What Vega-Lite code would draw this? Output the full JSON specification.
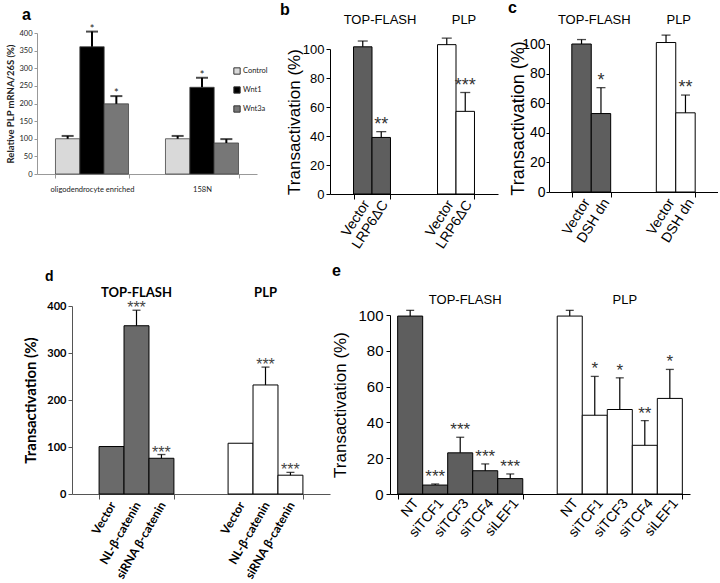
{
 "$schema": "https://vega.github.io/schema/vega-lite/v6.json",
 "background": "white",
 "padding": {"left": 5, "top": 0, "right": 0, "bottom": 0},
 "config": {"view": {"stroke": null}, "axis": {"grid": false, "labelOverlap": false},
   "title": {"font": "Liberation Sans", "fontWeight": "bold", "color": "#000", "anchor": "start", "frame": "group"}},
 "bounds": "flush",
 "spacing": 273,
 "resolve": {"scale": {"fill": "independent", "xOffset": "independent"}},
 "vconcat": [
  {"hconcat": [
   {
    "width": 242, "height": 141,
    "title": {"text": "a", "dx": -15, "offset": 1, "fontSize": 16},
    "data": {"values": [
     {"group": "oligodendrocyte enriched", "cond": "Control", "v": 100, "e": 108, "star": ""},
     {"group": "oligodendrocyte enriched", "cond": "Wnt1", "v": 361, "e": 404, "star": "*"},
     {"group": "oligodendrocyte enriched", "cond": "Wnt3a", "v": 199, "e": 221, "star": "*"},
     {"group": "158N", "cond": "Control", "v": 100, "e": 108, "star": ""},
     {"group": "158N", "cond": "Wnt1", "v": 246, "e": 273, "star": "*"},
     {"group": "158N", "cond": "Wnt3a", "v": 88, "e": 99, "star": ""}
    ]},
    "encoding": {
     "x": {"field": "group", "type": "nominal", "sort": null,
       "scale": {"domain": ["oligodendrocyte enriched", "158N"], "range": [0, 220], "paddingInner": 0.336, "paddingOuter": 0.168},
       "axis": {"title": null, "labelAngle": 0, "labelFont": "Lato", "labelFontSize": 7.5, "labelColor": "#222", "labelPadding": 7, "tickBand": "extent", "tickSize": 4, "domainColor": "#999", "tickColor": "#999"}}
    },
    "layer": [
     {"mark": {"type": "bar", "stroke": "#444", "strokeWidth": 0.8},
      "encoding": {
       "xOffset": {"field": "cond", "type": "nominal", "sort": null, "scale": {"domain": ["Control", "Wnt1", "Wnt3a"], "paddingInner": 0, "paddingOuter": 0}},
       "y": {"field": "v", "type": "quantitative", "scale": {"domain": [0, 400], "nice": false},
        "axis": {"title": "Relative PLP mRNA/26S (%)", "values": [0, 50, 100, 150, 200, 250, 300, 350, 400], "tickCount": 20, "labelOverlap": false, "titleFont": "Lato", "titleFontSize": 9.5, "titleFontWeight": "bold", "titleColor": "#222", "titlePadding": 3, "labelFont": "Lato", "labelFontSize": 7.5, "labelColor": "#222", "labelPadding": 2, "tickSize": 3, "domainColor": "#999", "tickColor": "#999"}},
       "fill": {"field": "cond", "type": "nominal", "scale": {"domain": ["Control", "Wnt1", "Wnt3a"], "range": ["#d9d9d9", "#000000", "#777777"]},
        "legend": {"title": null, "orient": "none", "legendX": 196, "legendY": 34, "padding": 0, "symbolType": "square", "symbolSize": 40, "symbolStrokeColor": "#333", "symbolStrokeWidth": 1, "labelFont": "Lato", "labelFontSize": 7.5, "labelColor": "#222", "rowPadding": 7, "labelOffset": 2}}
      }},
     {"mark": {"type": "rule", "stroke": "#000", "strokeWidth": 2},
      "encoding": {"xOffset": {"field": "cond", "type": "nominal", "sort": null}, "y": {"field": "v", "type": "quantitative"}, "y2": {"field": "e"}}},
     {"mark": {"type": "tick", "orient": "horizontal", "color": "#000", "size": 12, "thickness": 2},
      "encoding": {"xOffset": {"field": "cond", "type": "nominal", "sort": null}, "y": {"field": "e", "type": "quantitative"}}},
     {"mark": {"type": "text", "font": "Lato", "fontSize": 11, "baseline": "alphabetic", "dy": 1, "color": "#222"},
      "encoding": {"xOffset": {"field": "cond", "type": "nominal", "sort": null}, "y": {"field": "e", "type": "quantitative"}, "text": {"field": "star"}}}
    ]
   },
   {
    "width": 168, "height": 161,
    "title": {"text": "b", "dx": -50, "offset": -4, "fontSize": 16},
    "data": {"values": [
     {"group": "TOP-FLASH", "cond": "Vector", "v": 101.5, "e": 105.5, "star": ""},
     {"group": "TOP-FLASH", "cond": "LRP6ΔC", "v": 39, "e": 43, "star": "**"},
     {"group": "PLP", "cond": "Vector", "v": 103, "e": 107.5, "star": ""},
     {"group": "PLP", "cond": "LRP6ΔC", "v": 57, "e": 70, "star": "***"}
    ]},
    "encoding": {
     "x": {"field": "group", "type": "nominal", "sort": null,
       "scale": {"domain": ["TOP-FLASH", "PLP"], "paddingInner": 0.56, "paddingOuter": 0.28},
       "axis": {"title": null, "labels": false, "tickBand": "extent", "tickSize": 5, "domainColor": "#000", "tickColor": "#000"}}
    },
    "layer": [
     {"mark": {"type": "bar", "stroke": "#000", "strokeWidth": 1},
      "encoding": {
       "xOffset": {"field": "cond", "type": "nominal", "sort": null, "scale": {"domain": ["Vector", "LRP6ΔC"], "paddingInner": 0, "paddingOuter": 0}},
       "y": {"field": "v", "type": "quantitative", "scale": {"domain": [0, 100], "range": [161, 16], "nice": false},
        "axis": {"title": "Transactivation (%)", "values": [0, 20, 40, 60, 80, 100], "tickCount": 20, "labelOverlap": false, "titleFont": "Liberation Sans", "titleFontSize": 17, "titleFontWeight": "normal", "titleColor": "#000", "titlePadding": -1, "labelFont": "Liberation Sans", "labelFontSize": 13, "labelColor": "#000", "labelPadding": 2, "tickSize": 4, "domainColor": "#000", "tickColor": "#000"}},
       "fill": {"field": "group", "type": "nominal", "scale": {"domain": ["TOP-FLASH", "PLP"], "range": ["#5e5e5e", "#ffffff"]}, "legend": null}
      }},
     {"mark": {"type": "rule", "stroke": "#000", "strokeWidth": 1.2},
      "encoding": {"xOffset": {"field": "cond", "type": "nominal", "sort": null}, "y": {"field": "v", "type": "quantitative"}, "y2": {"field": "e"}}},
     {"mark": {"type": "tick", "orient": "horizontal", "color": "#000", "size": 10, "thickness": 1.3},
      "encoding": {"xOffset": {"field": "cond", "type": "nominal", "sort": null}, "y": {"field": "e", "type": "quantitative"}}},
     {"mark": {"type": "text", "font": "Liberation Sans", "fontSize": 18, "baseline": "alphabetic", "dy": -2, "color": "#333"},
      "encoding": {"xOffset": {"field": "cond", "type": "nominal", "sort": null}, "y": {"field": "e", "type": "quantitative"}, "text": {"field": "star"}}},
     {"mark": {"type": "text", "font": "Liberation Sans", "fontSize": 14, "angle": 303, "align": "right", "baseline": "middle", "dx": -4.5, "dy": 7.7, "color": "#000"},
      "encoding": {"xOffset": {"field": "cond", "type": "nominal", "sort": null}, "y": {"datum": 0}, "text": {"field": "cond"}}},
     {"transform": [{"filter": "datum.cond === 'Vector'"}],
      "mark": {"type": "text", "font": "Liberation Sans", "fontSize": 13, "baseline": "middle", "dx": 8, "color": "#000"},
      "encoding": {"y": {"datum": 120}, "text": {"field": "group"}}}
    ]
   },
   {
    "width": 169, "height": 159,
    "title": {"text": "c", "dx": -41, "offset": -2, "fontSize": 16},
    "data": {"values": [
     {"group": "TOP-FLASH", "cond": "Vector", "v": 100, "e": 103, "star": ""},
     {"group": "TOP-FLASH", "cond": "DSH dn", "v": 53, "e": 70.5, "star": "*"},
     {"group": "PLP", "cond": "Vector", "v": 101, "e": 106, "star": ""},
     {"group": "PLP", "cond": "DSH dn", "v": 53.5, "e": 65.5, "star": "**"}
    ]},
    "encoding": {
     "x": {"field": "group", "type": "nominal", "sort": null,
       "scale": {"domain": ["TOP-FLASH", "PLP"], "paddingInner": 0.54, "paddingOuter": 0.27},
       "axis": {"title": null, "labels": false, "tickBand": "extent", "tickSize": 5, "domainColor": "#000", "tickColor": "#000"}}
    },
    "layer": [
     {"mark": {"type": "bar", "stroke": "#000", "strokeWidth": 1},
      "encoding": {
       "xOffset": {"field": "cond", "type": "nominal", "sort": null, "scale": {"domain": ["Vector", "DSH dn"], "paddingInner": 0, "paddingOuter": 0}},
       "y": {"field": "v", "type": "quantitative", "scale": {"domain": [0, 100], "range": [159, 11], "nice": false},
        "axis": {"title": "Transactivation (%)", "values": [0, 20, 40, 60, 80, 100], "tickCount": 20, "labelOverlap": false, "titleFont": "Liberation Sans", "titleFontSize": 18, "titleFontWeight": "normal", "titleColor": "#000", "titlePadding": -6, "labelFont": "Liberation Sans", "labelFontSize": 14, "labelColor": "#000", "labelPadding": 1, "tickSize": 3, "domainColor": "#000", "tickColor": "#000"}},
       "fill": {"field": "group", "type": "nominal", "scale": {"domain": ["TOP-FLASH", "PLP"], "range": ["#5e5e5e", "#ffffff"]}, "legend": null}
      }},
     {"mark": {"type": "rule", "stroke": "#000", "strokeWidth": 1.2},
      "encoding": {"xOffset": {"field": "cond", "type": "nominal", "sort": null}, "y": {"field": "v", "type": "quantitative"}, "y2": {"field": "e"}}},
     {"mark": {"type": "tick", "orient": "horizontal", "color": "#000", "size": 9, "thickness": 1.3},
      "encoding": {"xOffset": {"field": "cond", "type": "nominal", "sort": null}, "y": {"field": "e", "type": "quantitative"}}},
     {"mark": {"type": "text", "font": "Liberation Sans", "fontSize": 18, "baseline": "alphabetic", "dy": -2, "color": "#333"},
      "encoding": {"xOffset": {"field": "cond", "type": "nominal", "sort": null}, "y": {"field": "e", "type": "quantitative"}, "text": {"field": "star"}}},
     {"mark": {"type": "text", "font": "Liberation Sans", "fontSize": 14, "angle": 302, "align": "right", "baseline": "middle", "dx": -4, "dy": 9, "color": "#000"},
      "encoding": {"xOffset": {"field": "cond", "type": "nominal", "sort": null}, "y": {"datum": 0}, "text": {"field": "cond"}}},
     {"transform": [{"filter": "datum.cond === 'Vector'"}],
      "mark": {"type": "text", "font": "Liberation Sans", "fontSize": 13, "baseline": "middle", "dx": 3, "color": "#000"},
      "encoding": {"y": {"datum": 116}, "text": {"field": "group"}}}
    ]
   }
  ], "spacing": 51, "bounds": "flush",
  "resolve": {"scale": {"fill": "independent", "xOffset": "independent"}}},
  {"hconcat": [
   {
    "width": 293, "height": 188,
    "title": {"text": "d", "dx": 8, "offset": 3, "fontSize": 14},
    "data": {"values": [
     {"group": "TOP-FLASH", "cond": "Vector", "v": 101, "e": null, "star": ""},
     {"group": "TOP-FLASH", "cond": "NL-β-catenin", "v": 358, "e": 391, "star": "***"},
     {"group": "TOP-FLASH", "cond": "siRNA β-catenin", "v": 76, "e": 84, "star": "***"},
     {"group": "PLP", "cond": "Vector", "v": 108, "e": null, "star": ""},
     {"group": "PLP", "cond": "NL-β-catenin", "v": 232, "e": 270, "star": "***"},
     {"group": "PLP", "cond": "siRNA β-catenin", "v": 40, "e": 46, "star": "***"}
    ]},
    "encoding": {
     "x": {"field": "group", "type": "nominal", "sort": null,
       "scale": {"domain": ["TOP-FLASH", "PLP"], "range": [35, 293], "paddingInner": 0.42, "paddingOuter": 0.21},
       "axis": {"title": null, "labels": false, "tickBand": "extent", "tickSize": 5, "domainColor": "#555", "tickColor": "#555"}}
    },
    "layer": [
     {"mark": {"type": "bar", "stroke": "#000", "strokeWidth": 1},
      "encoding": {
       "xOffset": {"field": "cond", "type": "nominal", "sort": null, "scale": {"domain": ["Vector", "NL-β-catenin", "siRNA β-catenin"], "paddingInner": 0, "paddingOuter": 0}},
       "y": {"field": "v", "type": "quantitative", "scale": {"domain": [0, 400], "nice": false},
        "axis": {"title": "Transactivation (%)", "offset": -35, "values": [0, 100, 200, 300, 400], "tickCount": 20, "labelOverlap": false, "titleFont": "Lato", "titleFontSize": 15, "titleFontWeight": "bold", "titleColor": "#000", "titlePadding": 8, "labelFont": "Lato", "labelFontSize": 11, "labelFontWeight": "bold", "labelColor": "#000", "labelPadding": 2, "tickSize": 4, "domainColor": "#555", "tickColor": "#555"}},
       "fill": {"field": "group", "type": "nominal", "scale": {"domain": ["TOP-FLASH", "PLP"], "range": ["#6a6a6a", "#ffffff"]}, "legend": null}
      }},
     {"mark": {"type": "rule", "stroke": "#000", "strokeWidth": 1.2},
      "encoding": {"xOffset": {"field": "cond", "type": "nominal", "sort": null}, "y": {"field": "v", "type": "quantitative"}, "y2": {"field": "e"}}},
     {"mark": {"type": "tick", "orient": "horizontal", "color": "#000", "size": 8, "thickness": 1.3},
      "encoding": {"xOffset": {"field": "cond", "type": "nominal", "sort": null}, "y": {"field": "e", "type": "quantitative"}}},
     {"mark": {"type": "text", "font": "Liberation Sans", "fontSize": 16, "baseline": "alphabetic", "dy": 3, "color": "#444"},
      "encoding": {"xOffset": {"field": "cond", "type": "nominal", "sort": null}, "y": {"field": "e", "type": "quantitative"}, "text": {"field": "star"}}},
     {"mark": {"type": "text", "font": "Lato", "fontSize": 12, "fontWeight": "bold", "angle": 300, "align": "right", "baseline": "middle", "dx": -7, "dy": 5.5, "color": "#000"},
      "encoding": {"xOffset": {"field": "cond", "type": "nominal", "sort": null}, "y": {"datum": 0}, "text": {"field": "cond"}}},
     {"transform": [{"filter": "datum.cond === 'Vector'"}],
      "mark": {"type": "text", "font": "Lato", "fontSize": 13, "fontWeight": "bold", "baseline": "middle", "color": "#000"},
      "encoding": {"y": {"datum": 428}, "text": {"field": "group"}}}
    ]
   },
   {
    "width": 300, "height": 188,
    "title": {"text": "e", "dx": -58, "dy": -15, "offset": 0, "fontSize": 16},
    "data": {"values": [
     {"group": "TOP-FLASH", "cond": "NT", "v": 99.4, "e": 102.6, "star": ""},
     {"group": "TOP-FLASH", "cond": "siTCF1", "v": 5, "e": 5.6, "star": "***"},
     {"group": "TOP-FLASH", "cond": "siTCF3", "v": 23, "e": 31.7, "star": "***"},
     {"group": "TOP-FLASH", "cond": "siTCF4", "v": 13, "e": 16.8, "star": "***"},
     {"group": "TOP-FLASH", "cond": "siLEF1", "v": 8.6, "e": 11.2, "star": "***"},
     {"group": "PLP", "cond": "NT", "v": 99.4, "e": 102.6, "star": ""},
     {"group": "PLP", "cond": "siTCF1", "v": 44, "e": 65.7, "star": "*"},
     {"group": "PLP", "cond": "siTCF3", "v": 47.2, "e": 64.9, "star": "*"},
     {"group": "PLP", "cond": "siTCF4", "v": 27.2, "e": 41, "star": "**"},
     {"group": "PLP", "cond": "siLEF1", "v": 53.4, "e": 69.6, "star": "*"}
    ]},
    "encoding": {
     "x": {"field": "group", "type": "nominal", "sort": null,
       "scale": {"domain": ["TOP-FLASH", "PLP"], "paddingInner": 0.216, "paddingOuter": 0.048},
       "axis": {"title": null, "labels": false, "tickBand": "extent", "tickSize": 5, "domainColor": "#000", "tickColor": "#000"}}
    },
    "layer": [
     {"mark": {"type": "bar", "stroke": "#000", "strokeWidth": 1},
      "encoding": {
       "xOffset": {"field": "cond", "type": "nominal", "sort": null, "scale": {"domain": ["NT", "siTCF1", "siTCF3", "siTCF4", "siLEF1"], "paddingInner": 0, "paddingOuter": 0}},
       "y": {"field": "v", "type": "quantitative", "scale": {"domain": [0, 100], "range": [188, 9], "nice": false},
        "axis": {"title": "Transactivation (%)", "values": [0, 20, 40, 60, 80, 100], "tickCount": 20, "labelOverlap": false, "titleFont": "Liberation Sans", "titleFontSize": 17, "titleFontWeight": "normal", "titleColor": "#000", "titlePadding": 8, "labelFont": "Liberation Sans", "labelFontSize": 15, "labelColor": "#000", "labelPadding": 3, "tickSize": 4, "domainColor": "#000", "tickColor": "#000"}},
       "fill": {"field": "group", "type": "nominal", "scale": {"domain": ["TOP-FLASH", "PLP"], "range": ["#5e5e5e", "#ffffff"]}, "legend": null}
      }},
     {"mark": {"type": "rule", "stroke": "#000", "strokeWidth": 1.2},
      "encoding": {"xOffset": {"field": "cond", "type": "nominal", "sort": null}, "y": {"field": "v", "type": "quantitative"}, "y2": {"field": "e"}}},
     {"mark": {"type": "tick", "orient": "horizontal", "color": "#000", "size": 8, "thickness": 1.3},
      "encoding": {"xOffset": {"field": "cond", "type": "nominal", "sort": null}, "y": {"field": "e", "type": "quantitative"}}},
     {"mark": {"type": "text", "font": "Liberation Sans", "fontSize": 17, "baseline": "alphabetic", "dy": -2, "color": "#333"},
      "encoding": {"xOffset": {"field": "cond", "type": "nominal", "sort": null}, "y": {"field": "e", "type": "quantitative"}, "text": {"field": "star"}}},
     {"mark": {"type": "text", "font": "Liberation Sans", "fontSize": 14, "angle": 310, "align": "right", "baseline": "middle", "dx": -1.5, "dy": 9, "color": "#000"},
      "encoding": {"xOffset": {"field": "cond", "type": "nominal", "sort": null}, "y": {"datum": 0}, "text": {"field": "cond"}}},
     {"transform": [{"filter": "datum.cond === 'NT'"}],
      "mark": {"type": "text", "font": "Liberation Sans", "fontSize": 13, "baseline": "middle", "dx": 5, "color": "#000"},
      "encoding": {"y": {"datum": 108.4}, "text": {"field": "group"}}}
    ]
   }
  ], "spacing": 60, "bounds": "flush",
  "resolve": {"scale": {"fill": "independent", "xOffset": "independent"}}}
 ]
}
